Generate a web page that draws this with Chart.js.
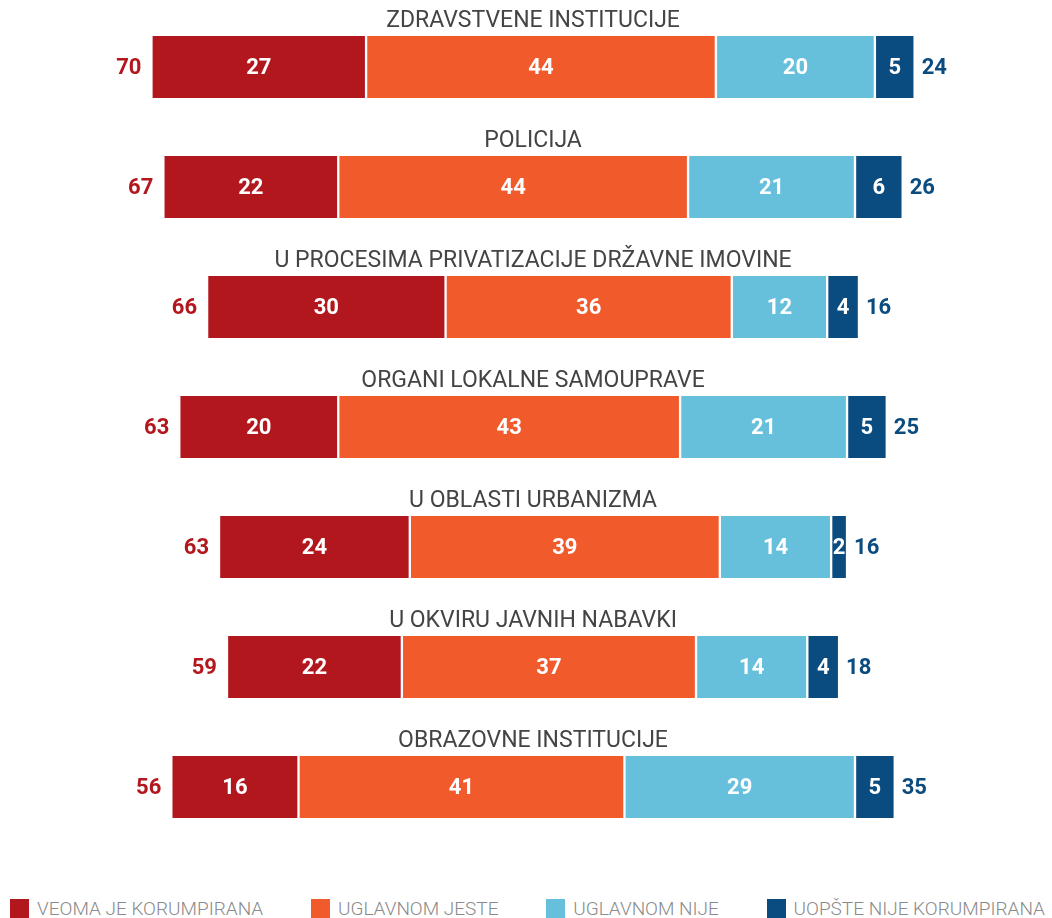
<!DOCTYPE html>
<html lang="sr">
<head>
<meta charset="utf-8">
<title>Korupcija po oblastima</title>
<script src="https://cdn.jsdelivr.net/npm/chart.js@4.4.1/dist/chart.umd.min.js"></script>
<style>
  body {
    margin: 0;
    background: #fff;
    font-family: Roboto, "Noto Sans", sans-serif;
  }
  #wrap {
    position: relative;
    width: 1052px;
    height: 918px;
  }
  #chart-box {
    position: absolute;
    left: 0;
    top: 0;
    width: 1052px;
    height: 880px;
  }
  #legend {
    position: absolute;
    left: 0;
    top: 898px;
    width: 1052px;
    box-sizing: border-box;
    padding: 0 7px 0 10px;
    display: flex;
    justify-content: space-between;
    align-items: center;
    height: 20px;
  }
  .legend-item {
    display: flex;
    align-items: center;
    color: #8a8a8a;
    font-weight: 300;
    font-size: 19px;
    white-space: nowrap;
  }
  .legend-box {
    width: 19px;
    height: 19px;
    margin-right: 8px;
  }
</style>
</head>
<body>
<div id="wrap">
  <div id="chart-box"><canvas id="canvas-chart"></canvas></div>
  <div id="legend"></div>
</div>
<script>
// Kategorije (naslovi iznad svake trake)
const categories = [
  "ZDRAVSTVENE INSTITUCIJE",
  "POLICIJA",
  "U PROCESIMA PRIVATIZACIJE DRŽAVNE IMOVINE",
  "ORGANI LOKALNE SAMOUPRAVE",
  "U OBLASTI URBANIZMA",
  "U OKVIRU JAVNIH NABAVKI",
  "OBRAZOVNE INSTITUCIJE",
];

// Vrednosti po odgovorima (%)
const veomaJe = [27, 22, 30, 20, 24, 22, 16];
const uglavnomJeste = [44, 44, 36, 43, 39, 37, 41];
const uglavnomNije = [20, 21, 12, 21, 14, 14, 29];
const uopsteNije = [5, 6, 4, 5, 2, 4, 5];

// Zbirovi levo (korumpirana) i desno (nije korumpirana)
const totalsLeft = [70, 67, 66, 63, 63, 59, 56];
const totalsRight = [24, 26, 16, 25, 16, 18, 35];

const seriesLabels = [
  "VEOMA JE KORUMPIRANA",
  "UGLAVNOM JESTE",
  "UGLAVNOM NIJE",
  "UOPŠTE NIJE KORUMPIRANA",
];
const seriesColors = ["#b3171e", "#f15a2b", "#66c0dc", "#0b4c80"];

const allSeries = [veomaJe, uglavnomJeste, uglavnomNije, uopsteNije];

// Trake su centrirane oko nule: pravimo [pocetak, kraj] za svaki segment
const floating = allSeries.map(() => []);
categories.forEach((c, i) => {
  const sum = allSeries.reduce((s, arr) => s + arr[i], 0);
  let start = -sum / 2;
  allSeries.forEach((arr, k) => {
    floating[k].push([start, start + arr[i]]);
    start += arr[i];
  });
});

const fontFamily = "Roboto, 'Noto Sans', sans-serif";

// Plugin koji crta naslove, brojeve u segmentima i zbirove sa strane
const labelsPlugin = {
  id: "barLabels",
  afterDatasetsDraw(chart) {
    const ctx = chart.ctx;
    const xScale = chart.scales.x;
    const first = chart.getDatasetMeta(0).data;
    const last = chart.getDatasetMeta(3).data;
    ctx.save();
    ctx.textBaseline = "middle";

    // brojevi u segmentima
    allSeries.forEach((arr, k) => {
      chart.getDatasetMeta(k).data.forEach((bar, i) => {
        ctx.font = "bold 22px " + fontFamily;
        ctx.fillStyle = "#ffffff";
        ctx.textAlign = "center";
        ctx.fillText(String(arr[i]), (bar.x + bar.base) / 2, bar.y + 1);
      });
    });

    categories.forEach((cat, i) => {
      const b0 = first[i];
      const b3 = last[i];
      const leftEdge = Math.min(b0.x, b0.base);
      const rightEdge = Math.max(b3.x, b3.base);
      const half = b0.height / 2;

      // naslov
      ctx.font = "23px " + fontFamily;
      ctx.fillStyle = "#444444";
      ctx.textAlign = "center";
      ctx.fillText(cat, xScale.getPixelForValue(0), b0.y - half - 15);

      // zbir levo
      ctx.font = "bold 22px " + fontFamily;
      ctx.fillStyle = seriesColors[0];
      ctx.textAlign = "right";
      ctx.fillText(String(totalsLeft[i]), leftEdge - 10, b0.y + 1);

      // zbir desno
      ctx.fillStyle = seriesColors[3];
      ctx.textAlign = "left";
      ctx.fillText(String(totalsRight[i]), rightEdge + 7, b0.y + 1);
    });
    ctx.restore();
  },
};

const chart = new Chart(document.getElementById("canvas-chart"), {
  type: "bar",
  data: {
    labels: categories,
    datasets: seriesLabels.map((label, k) => ({
      label: label,
      data: floating[k],
      backgroundColor: seriesColors[k],
      borderColor: "#ffffff",
      borderWidth: { left: 1.5, right: 1.5, top: 0, bottom: 0 },
      borderSkipped: false,
      grouped: false,
      barThickness: 62,
    })),
  },
  options: {
    indexAxis: "y",
    responsive: true,
    maintainAspectRatio: false,
    animation: false,
    layout: {
      padding: { top: 7, bottom: 33, left: 0, right: 0 },
    },
    scales: {
      x: {
        display: false,
        min: -67.05,
        max: 65.28,
      },
      y: {
        display: false,
        offset: true,
      },
    },
    plugins: {
      legend: { display: false },
      tooltip: { enabled: false },
    },
  },
  plugins: [labelsPlugin],
});

// HTML legenda ispod grafikona
const legendEl = document.getElementById("legend");
seriesLabels.forEach((label, k) => {
  const item = document.createElement("div");
  item.className = "legend-item";
  const box = document.createElement("span");
  box.className = "legend-box";
  box.style.background = seriesColors[k];
  item.appendChild(box);
  item.appendChild(document.createTextNode(label));
  legendEl.appendChild(item);
});
</script>
</body>
</html>
